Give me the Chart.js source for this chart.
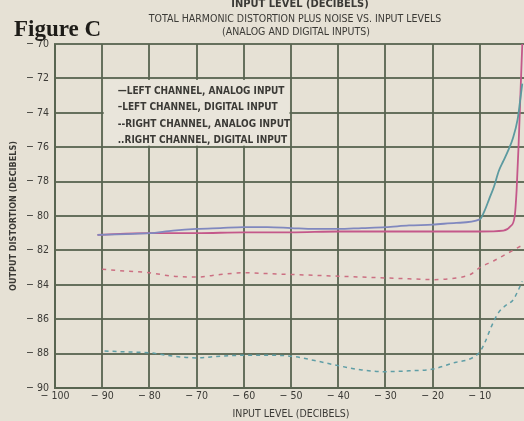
<!DOCTYPE html>
<html>
<head>
<meta charset="utf-8">
<script src="https://cdn.jsdelivr.net/npm/chart.js@4.4.0/dist/chart.umd.min.js"></script>
<style>
  html, body { margin: 0; padding: 0; background: #e6e1d5; overflow: hidden; }
  #myGraph { display: block; }
</style>
</head>
<body>
<canvas id="myGraph" width="540" height="421"></canvas>
<script>
// input level (dB) / output distortion (dB)
var leftAnalogX = [-91, -85, -80, -75, -70, -65, -60, -55, -50, -45, -40, -35, -30, -25, -20, -15, -10, -9, -8, -7, -6, -5, -4, -3, -2, -1.5, -1];
var leftAnalogY = [-81.1, -81.05, -81.0, -80.85, -80.75, -80.7, -80.65, -80.65, -80.7, -80.75, -80.75, -80.7, -80.65, -80.55, -80.5, -80.4, -80.2, -79.7, -79.0, -78.3, -77.4, -76.8, -76.2, -75.5, -74.4, -73.4, -72.3];

var leftDigitalX = [-91, -80, -70, -60, -50, -40, -30, -20, -10, -5, -3.5, -2.6, -2.2, -1.8, -1.4, -1.0];
var leftDigitalY = [-81.1, -81.0, -81.0, -80.95, -80.95, -80.9, -80.9, -80.9, -80.9, -80.85, -80.6, -80.0, -78.5, -76.0, -73.0, -70.0];

var rightAnalogX = [-90, -85, -80, -75, -70, -65, -60, -55, -50, -45, -40, -35, -30, -25, -20, -15, -12, -10, -7, -5, -3, -1];
var rightAnalogY = [-83.1, -83.2, -83.3, -83.5, -83.55, -83.4, -83.3, -83.35, -83.4, -83.45, -83.5, -83.55, -83.6, -83.65, -83.7, -83.6, -83.4, -83.0, -82.6, -82.3, -82.0, -81.7];

var rightDigitalX = [-89.5, -85, -80, -75, -70, -65, -60, -55, -50, -45, -40, -35, -30, -25, -20, -15, -12, -10, -9, -7.5, -6, -4.5, -3, -2, -1];
var rightDigitalY = [-87.85, -87.9, -87.95, -88.15, -88.25, -88.15, -88.1, -88.1, -88.15, -88.4, -88.7, -88.95, -89.05, -89.0, -88.9, -88.5, -88.3, -87.9, -87.4, -86.4, -85.6, -85.2, -84.9, -84.4, -83.8];

var legendLabels = [
    '\u2014LEFT CHANNEL, ANALOG INPUT',
    '\u2013LEFT CHANNEL, DIGITAL INPUT',
    '--RIGHT CHANNEL, ANALOG INPUT',
    '..RIGHT CHANNEL, DIGITAL INPUT'
];

var narrow = '"Liberation Sans Narrow", "DejaVu Sans Condensed", "Roboto", sans-serif';
var inkColor = '#3b3a36';
var gridColor = 'rgba(88, 100, 80, 0.9)';

function pts(xs, ys) {
    return xs.map(function (x, i) { return { x: x, y: ys[i] }; });
}

// titles, figure label and the boxed legend
var paperText = {
    id: 'paperText',
    beforeDatasetsDraw: function (chart) {
        var c = chart.ctx, xs = chart.scales.x, ys = chart.scales.y;
        var l = xs.getPixelForValue(-90) + 1.5, r = xs.getPixelForValue(-50) - 1.5;
        var t = ys.getPixelForValue(-72) + 1.5, b = ys.getPixelForValue(-76) - 1.5;
        c.save();
        c.fillStyle = '#e9e5db';
        c.fillRect(l, t, r - l, b - t);
        c.fillStyle = inkColor;
        c.font = 'bold 10px ' + narrow;
        c.textBaseline = 'middle';
        c.textAlign = 'left';
        var rows = [-72.75, -73.7, -74.65, -75.6];
        legendLabels.forEach(function (txt, i) {
            c.fillText(txt, l + 14, ys.getPixelForValue(rows[i]));
        });
        c.restore();
    },
    afterDraw: function (chart) {
        var c = chart.ctx;
        c.save();
        c.fillStyle = inkColor;
        c.textAlign = 'center';
        c.textBaseline = 'middle';
        c.font = 'bold 11px ' + narrow;
        c.fillText('INPUT LEVEL (DECIBELS)', 300, 4);
        c.font = '10.5px ' + narrow;
        c.fillText('TOTAL HARMONIC DISTORTION PLUS NOISE VS. INPUT LEVELS', 295, 19);
        c.fillText('(ANALOG AND DIGITAL INPUTS)', 296, 32);
        c.fillStyle = '#1e1c18';
        c.textAlign = 'left';
        c.textBaseline = 'alphabetic';
        c.font = 'bold 23px "Liberation Serif", "DejaVu Serif", serif';
        c.fillText('Figure C', 14, 36);
        c.restore();
    }
};

var ctx = document.getElementById('myGraph');
var myGraph = new Chart(ctx, {
    type: 'line',
    data: {
        datasets: [{
            label: legendLabels[0],
            data: pts(leftAnalogX, leftAnalogY),
            borderColor: '#8088bf',
            segment: {
                borderColor: function (s) { return s.p0.parsed.x >= -10 ? '#5c9aa0' : '#8088bf'; }
            },
            borderWidth: 1.8
        }, {
            label: legendLabels[1],
            data: pts(leftDigitalX, leftDigitalY),
            borderColor: '#c4588a',
            borderWidth: 1.8
        }, {
            label: legendLabels[2],
            data: pts(rightAnalogX, rightAnalogY),
            borderColor: '#cc6f82',
            borderDash: [4, 5],
            borderWidth: 1.5
        }, {
            label: legendLabels[3],
            data: pts(rightDigitalX, rightDigitalY),
            borderColor: '#5f9ea6',
            borderDash: [4, 4],
            borderWidth: 1.5
        }]
    },
    options: {
        responsive: false,
        animation: false,
        layout: { padding: { top: 44, right: 13, left: 0, bottom: 0 } },
        elements: {
            point: { radius: 0 },
            line: { cubicInterpolationMode: 'monotone' }
        },
        plugins: {
            legend: { display: false },
            tooltip: { enabled: false }
        },
        scales: {
            x: {
                type: 'linear',
                min: -100,
                max: 0,
                afterFit: function (s) { s.height = 33; },
                ticks: {
                    stepSize: 10,
                    color: inkColor,
                    font: { family: narrow, size: 10.5 },
                    padding: 2,
                    callback: function (v) { return v === 0 ? '0' : '\u2212 ' + Math.abs(v); }
                },
                grid: { color: gridColor, lineWidth: 2, drawTicks: false },
                border: { color: gridColor, width: 2 },
                title: {
                    display: true,
                    text: 'INPUT LEVEL (DECIBELS)',
                    color: inkColor,
                    font: { family: narrow, size: 10.5 },
                    padding: { top: 0, bottom: 0 }
                }
            },
            y: {
                min: -90,
                max: -70,
                afterFit: function (s) { s.width = 55; },
                ticks: {
                    stepSize: 2,
                    color: inkColor,
                    font: { family: narrow, size: 10.5 },
                    padding: 6,
                    callback: function (v) { return '\u2212 ' + Math.abs(v); }
                },
                grid: { color: gridColor, lineWidth: 2, drawTicks: false },
                border: { color: gridColor, width: 2 },
                title: {
                    display: true,
                    text: 'OUTPUT DISTORTION (DECIBELS)',
                    color: inkColor,
                    font: { family: narrow, size: 9, weight: 'bold' },
                    padding: { top: 8, bottom: 0 }
                }
            }
        }
    },
    plugins: [paperText]
});
</script>
</body>
</html>
